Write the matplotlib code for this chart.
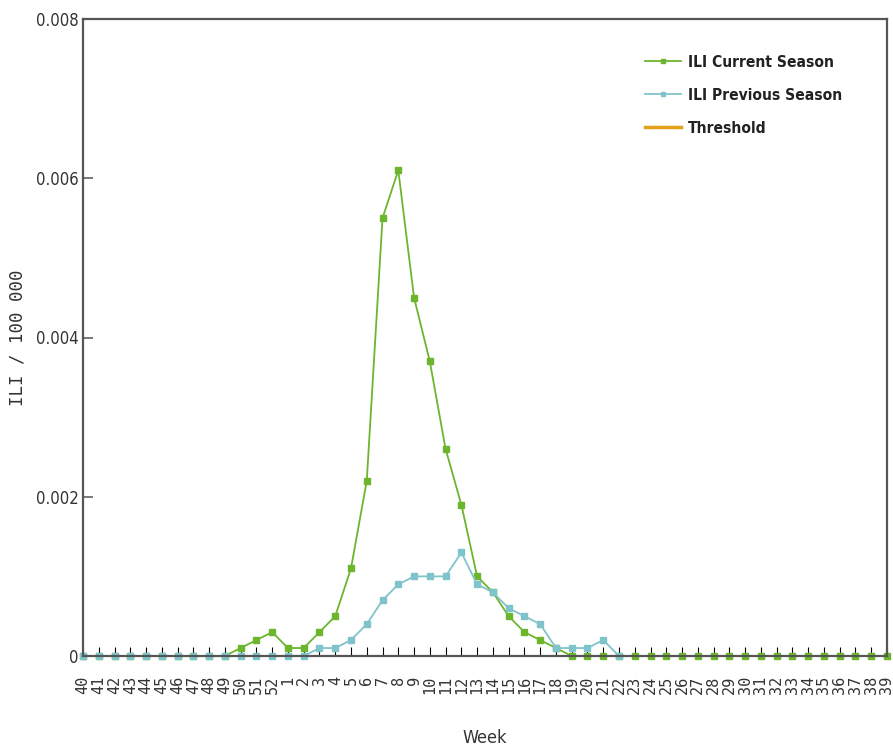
import numpy as np
import matplotlib
matplotlib.use("Agg")
import matplotlib.pyplot as plt

# week labels: season runs from week 40 to week 39 of next year
weeks = [str(w) for w in range(40, 53)] + [str(w) for w in range(1, 40)]

# ILI current season (per 100 000)
current_season = [
    0, 0, 0, 0, 0, 0, 0, 0, 0, 0,            # 40-49
    0.0001, 0.0002, 0.0003,                  # 50-52
    0.0001, 0.0001, 0.0003, 0.0005, 0.0011,  # 1-5
    0.0022, 0.0055, 0.0061, 0.0045, 0.0037,  # 6-10
    0.0026, 0.0019, 0.0010, 0.0008, 0.0005,  # 11-15
    0.0003, 0.0002, 0.0001,                  # 16-18
    0, 0, 0, 0, 0, 0, 0, 0, 0, 0, 0,         # 19-29
    0, 0, 0, 0, 0, 0, 0, 0, 0, 0,            # 30-39
]

# ILI previous season (no data after week 22)
previous_season = [
    0, 0, 0, 0, 0, 0, 0, 0, 0, 0, 0, 0, 0,   # 40-52
    0, 0, 0.0001, 0.0001, 0.0002,            # 1-5
    0.0004, 0.0007, 0.0009, 0.0010, 0.0010,  # 6-10
    0.0010, 0.0013, 0.0009, 0.0008, 0.0006,  # 11-15
    0.0005, 0.0004, 0.0001, 0.0001, 0.0001,  # 16-20
    0.0002, 0,                               # 21-22
] + [np.nan] * 17                            # 23-39

threshold = []

y_ticks = [0, 0.002, 0.004, 0.006, 0.008]
y_tick_labels = ["0", "0.002", "0.004", "0.006", "0.008"]

GREEN = "#6cb52d"
TEAL = "#80c4cb"
ORANGE = "#e3a21a"
SPINE = "#555555"
TEXT = "#333333"
NARROW = dict(family="DejaVu Sans", stretch="condensed")

fig = plt.figure(figsize=(8.93, 7.51), dpi=100)
ax = fig.add_axes([83 / 893, 1 - 656 / 751, 804 / 893, 637 / 751])

x = np.arange(len(weeks))
ax.plot(x, current_season, color=GREEN, lw=1.3, marker="s", ms=5,
        label="ILI Current Season", clip_on=False)
ax.plot(x, previous_season, color=TEAL, lw=1.3, marker="s", ms=5,
        label="ILI Previous Season", clip_on=False)
ax.plot(threshold, threshold, color=ORANGE, lw=2.5, label="Threshold")

ax.set_xlim(0, len(weeks) - 1)
ax.set_ylim(0, 0.008)

ax.set_xticks(x)
ax.set_xticklabels(weeks, rotation=90, family="DejaVu Sans Mono",
                   fontsize=11, color=TEXT)
ax.set_yticks(y_ticks)
ax.set_yticklabels(y_tick_labels, fontsize=12, color=TEXT, **NARROW)

ax.tick_params(axis="x", direction="in", length=6.5, width=0.8,
               color="black", pad=14)
ax.tick_params(axis="y", direction="in", length=7, width=1.1,
               color=SPINE, pad=3)

for side in ["left", "right", "top", "bottom"]:
    ax.spines[side].set_color(SPINE)
    ax.spines[side].set_linewidth(1.6)

ax.set_xlabel("Week", fontsize=13, color=TEXT, **NARROW)
ax.xaxis.set_label_coords(0.5, -0.114)
ax.set_ylabel("ILI / 100 000", family="DejaVu Sans Mono", fontsize=12.5,
              color=TEXT)
ax.yaxis.set_label_coords(-0.07, 0.5)

leg = ax.legend(loc="upper left", bbox_to_anchor=(0.689, 0.956),
                frameon=False, borderpad=0, handlelength=2.3,
                handletextpad=0.45, labelspacing=1.15, numpoints=1,
                markerscale=0.6,
                prop=dict(weight="bold", size=11.2, **NARROW))
for t in leg.get_texts():
    t.set_color("#222222")

fig.savefig("out.png", dpi=100)
